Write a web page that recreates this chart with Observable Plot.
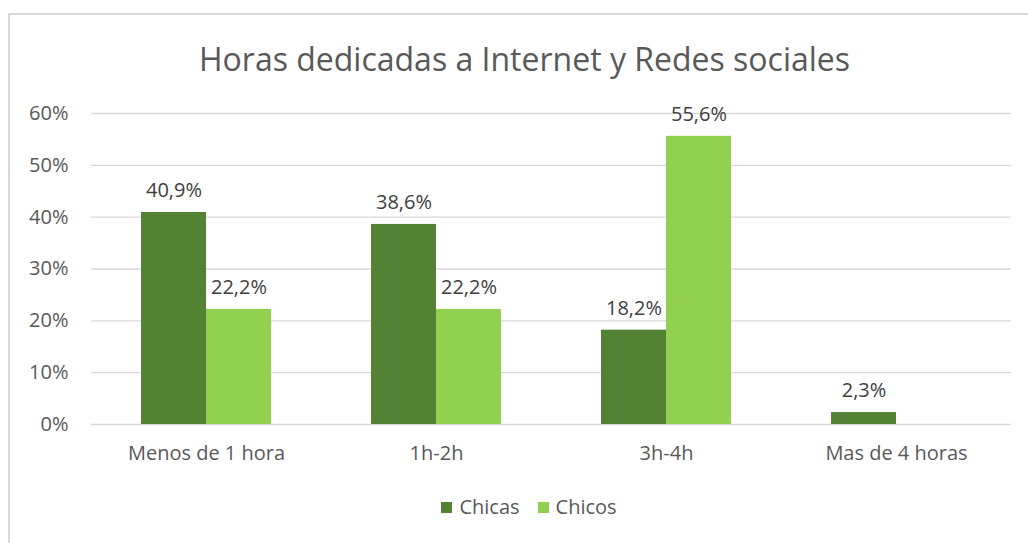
<!DOCTYPE html>
<html><head><meta charset="utf-8">
<script src="https://cdn.jsdelivr.net/npm/d3@7"></script>
<script src="https://cdn.jsdelivr.net/npm/@observablehq/plot@0.6"></script>
<style>
body{margin:0;background:#fff;font-family:"Open Sans",sans-serif;}
#wrap{position:relative;width:1028px;height:543px;overflow:hidden;}
#frame{position:absolute;left:8px;top:13px;width:1040px;height:560px;border:2px solid #d9d9d9;box-sizing:border-box;}
#title{position:absolute;left:0;width:1049px;top:37px;text-align:center;font-size:32px;color:#595959;line-height:44px;}
#chart{position:absolute;left:0;top:0;}
#legend{position:absolute;top:493px;left:0;width:1058px;text-align:center;font-size:20px;color:#595959;line-height:28px;}
#legend span.sw{display:inline-block;width:11px;height:11px;margin-right:7px;vertical-align:1px;}
#legend span.it{margin:0 9px;}
</style></head><body>
<div id="wrap">
<div id="frame"></div>
<div id="title">Horas dedicadas a Internet y Redes sociales</div>
<div id="chart"></div>
<div id="legend"></div>
</div>
<script>
const categories = ["Menos de 1 hora", "1h-2h", "3h-4h", "Mas de 4 horas"];
const series = ["Chicas", "Chicos"];
const chicas = [40.9, 38.6, 18.2, 2.3];
const chicos = [22.2, 22.2, 55.6, null];
const yTicks = [0, 10, 20, 30, 40, 50, 60];
const colors = ["#548235", "#92D050"];

const data = [];
categories.forEach((c, i) => {
  if (chicas[i] != null) data.push({cat: c, serie: "Chicas", v: chicas[i]});
  if (chicos[i] != null) data.push({cat: c, serie: "Chicos", v: chicos[i]});
});
const fmt = v => v.toFixed(1).replace(".", ",") + "%";

const plot = Plot.plot({
  width: 1028, height: 480,
  marginTop: 113, marginBottom: 56, marginLeft: 91, marginRight: 17,
  style: {fontFamily: "Open Sans, sans-serif", fontSize: "20px", color: "#595959", background: "transparent"},
  fx: {domain: categories, padding: 0, label: null, axis: "bottom", tickSize: 0, tickPadding: 21},
  x: {domain: series, paddingInner: 0, paddingOuter: 0.76, axis: null},
  y: {domain: [0, 60], ticks: yTicks, tickFormat: d => d + "%", label: null, tickSize: 0, tickPadding: 23},
  color: {domain: series, range: colors},
  marks: [
    Plot.ruleY(yTicks, {stroke: "#d9d9d9", strokeWidth: 1.3}),
    Plot.barY(data, {fx: "cat", x: "serie", y: "v", fill: "serie"}),
    Plot.text(data, {fx: "cat", x: "serie", y: "v", text: d => fmt(d.v), dy: -22, fill: "#404040", fontSize: 20})
  ]
});
document.getElementById("chart").appendChild(plot);
const lg = document.getElementById("legend");
series.forEach((s, i) => {
  const it = document.createElement("span");
  it.className = "it";
  it.innerHTML = `<span class="sw" style="background:${colors[i]}"></span>${s}`;
  lg.appendChild(it);
});
</script>
</body></html>
